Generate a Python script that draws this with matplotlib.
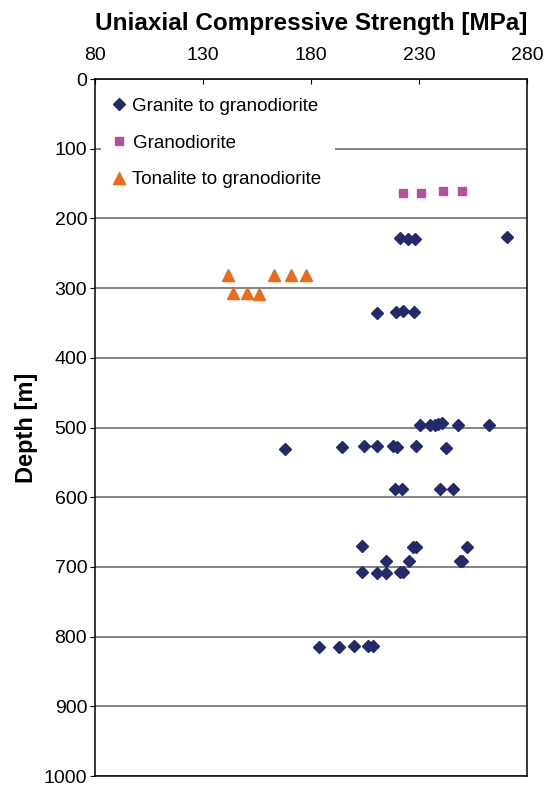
import matplotlib.pyplot as plt

plt.rcParams['font.family'] = ['Liberation Sans', 'DejaVu Sans']

# granite to granodiorite samples (strength MPa, depth m)
granite_ucs = [221.2, 224.9, 228.1, 270.7,
               210.4, 219.4, 222.5, 227.7,
               230.5, 235.1, 237.4, 239.0, 240.5, 247.9, 262.4,
               168.0, 194.5, 204.7, 210.4, 217.8, 219.9, 228.4, 242.4,
               218.9, 222.3, 239.7, 245.9,
               203.5, 227.4, 228.6, 252.1,
               214.7, 225.5, 249.0, 250.1,
               203.5, 210.4, 214.7, 221.2, 222.7,
               183.9, 193.0, 199.9, 206.2, 208.9]
granite_depth = [228, 229, 229, 227,
                 336, 334, 333, 335,
                 497, 496, 497, 495, 494, 497, 496,
                 531, 528, 526, 526, 526, 528, 526, 530,
                 588, 588, 588, 588,
                 670, 672, 672, 672,
                 692, 692, 692, 692,
                 708, 709, 709, 708, 708,
                 815, 815, 813, 813, 813]

# granodiorite samples
grano_ucs = [222.6, 230.9, 241.1, 249.9]
grano_depth = [163, 163, 161, 161]

# tonalite to granodiorite samples
tonalite_ucs = [141.4, 162.9, 170.6, 177.5, 144.0, 150.5, 156.1]
tonalite_depth = [281, 281, 281, 281, 307, 307, 308]

fig = plt.figure(figsize=(5.51, 7.87), dpi=100)
ax = fig.add_axes([95 / 551, 11 / 787, 432 / 551, 697 / 787])

ax.plot(granite_ucs, granite_depth, 'D', color='#232a6b', markersize=5.7,
        linestyle='none', label='Granite to granodiorite', zorder=3)
ax.plot(grano_ucs, grano_depth, 's', color='#b5509a', markersize=6,
        linestyle='none', label='Granodiorite', zorder=3)
ax.plot(tonalite_ucs, tonalite_depth, '^', color='#ee6a1f', markersize=8,
        linestyle='none', label='Tonalite to granodiorite', zorder=3)

ax.set_xlim(80, 280)
ax.set_ylim(1000, 0)
ax.set_xticks([80, 130, 180, 230, 280])
ax.set_yticks(range(0, 1001, 100))

ax.yaxis.grid(True, color='#7a7a7a', linewidth=1.3)
ax.set_axisbelow(True)

ax.xaxis.set_ticks_position('top')
ax.xaxis.set_label_position('top')
ax.tick_params(axis='x', direction='in', length=3.6, pad=11, labelsize=14)
ax.tick_params(axis='y', direction='out', length=3.6, pad=2, labelsize=14)
for s in ax.spines.values():
    s.set_linewidth(1.1)

ax.set_xlabel('Uniaxial Compressive Strength [MPa]', fontsize=17.5,
              fontweight='bold', labelpad=12)
ax.set_ylabel('Depth [m]', fontsize=17, fontweight='bold', labelpad=4)

leg = ax.legend(loc='upper left', fontsize=13.5, frameon=True,
                facecolor='white', edgecolor='none', framealpha=1,
                handlelength=0.6, handletextpad=0.4, labelspacing=1.05,
                borderaxespad=0.3, borderpad=0.7, fancybox=False)
leg.get_frame().set_linewidth(0)

fig.savefig('out.png', dpi=100)
